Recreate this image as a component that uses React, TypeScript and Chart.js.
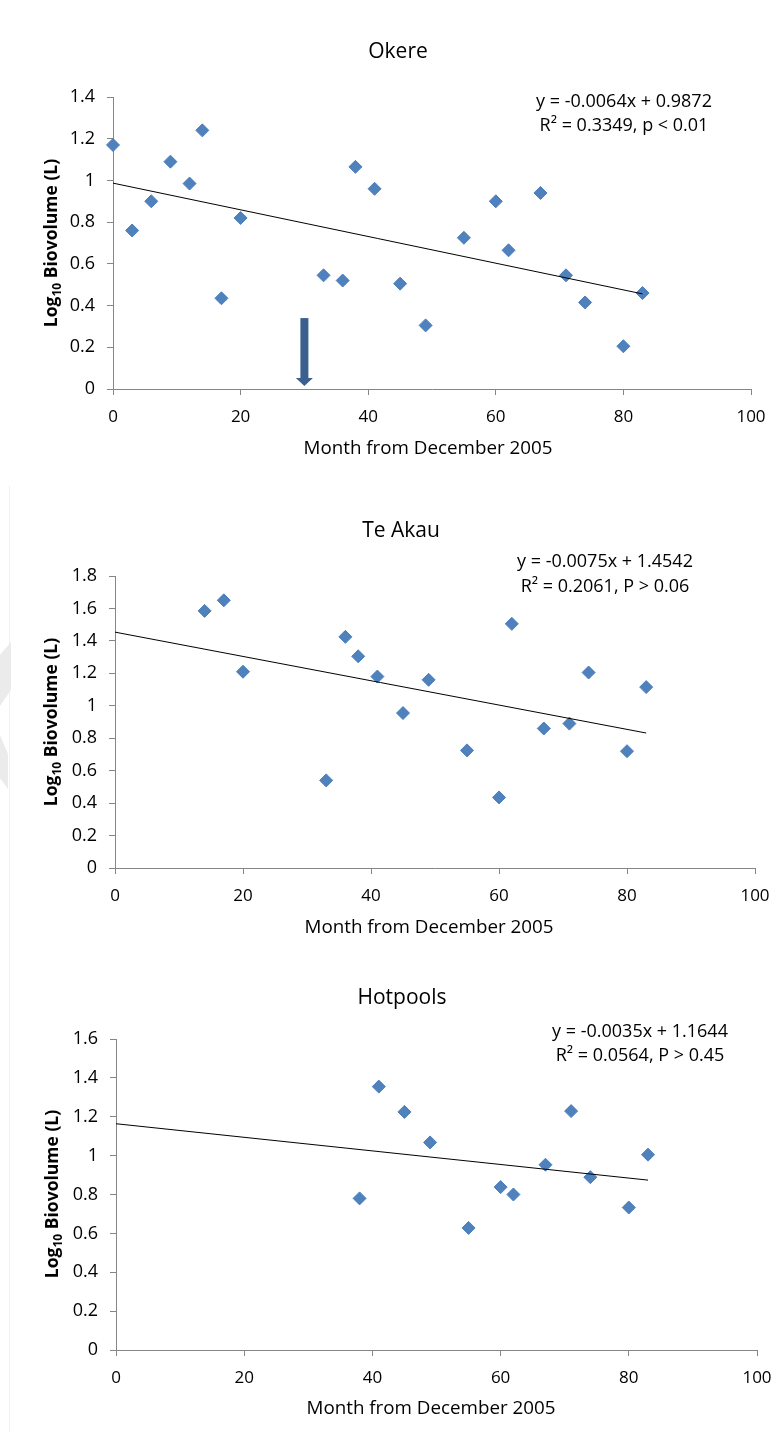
import React, { useEffect, useRef } from "react";
import { Chart, registerables } from "chart.js";

Chart.register(...registerables);

// ---------- data ----------
const xTickLabels = ["0", "20", "40", "60", "80", "100"];

const okereMonths = [0, 3, 6, 9, 12, 14, 17, 20, 33, 36, 38, 41, 45, 49, 55, 60, 62, 67, 71, 74, 80, 83];
const okereValues = [1.17, 0.76, 0.9, 1.09, 0.985, 1.24, 0.435, 0.82, 0.545, 0.52, 1.065, 0.96, 0.505, 0.305, 0.725, 0.9, 0.665, 0.94, 0.545, 0.415, 0.205, 0.46];
const okereTrend = [0.987, 0.456];
const okereYTicks = ["0", "0.2", "0.4", "0.6", "0.8", "1", "1.2", "1.4"];
const okereEquation = ["y = -0.0064x + 0.9872", "R\u00b2 = 0.3349, p < 0.01"];
const okereArrow = { month: 30, from: 0.34, to: 0 };

const teAkauMonths = [14, 17, 20, 33, 36, 38, 41, 45, 49, 55, 60, 62, 67, 71, 74, 80, 83];
const teAkauValues = [1.585, 1.65, 1.21, 0.54, 1.425, 1.305, 1.18, 0.955, 1.16, 0.725, 0.435, 1.505, 0.86, 0.89, 1.205, 0.72, 1.115];
const teAkauTrend = [1.454, 0.832];
const teAkauYTicks = ["0", "0.2", "0.4", "0.6", "0.8", "1", "1.2", "1.4", "1.6", "1.8"];
const teAkauEquation = ["y = -0.0075x + 1.4542", "R\u00b2 = 0.2061, P > 0.06"];

const hotpoolsMonths = [38, 41, 45, 49, 55, 60, 62, 67, 71, 74, 80, 83];
const hotpoolsValues = [0.78, 1.355, 1.225, 1.068, 0.628, 0.838, 0.8, 0.953, 1.229, 0.889, 0.733, 1.005];
const hotpoolsTrend = [1.164, 0.874];
const hotpoolsYTicks = ["0", "0.2", "0.4", "0.6", "0.8", "1", "1.2", "1.4", "1.6"];
const hotpoolsEquation = ["y = -0.0035x + 1.1644", "R\u00b2 = 0.0564, P > 0.45"];

const trendMonths = [0, 83];

// ---------- styles ----------
const FONT = '"Open Sans", "Liberation Sans", sans-serif';
const AXIS_COLOR = "#868686";
const MARKER_FILL = "#4F81BD";
const MARKER_EDGE = "#4A7EBB";
const ARROW_COLOR = "#3B5F8E";

type Panel = {
  title: string;
  months: number[];
  values: number[];
  trend: number[];
  yTicks: string[];
  yMax: number;
  equation: string[];
  arrow?: { month: number; from: number; to: number };
  top: number;
  height: number;
  area: { l: number; r: number; t: number; b: number };
  titlePos: [number, number];
  xTitlePos: [number, number];
  yTitlePos: [number, number];
  eqPos: [number, number, number];
};

const panels: Panel[] = [
  {
    title: "Okere",
    months: okereMonths,
    values: okereValues,
    trend: okereTrend,
    yTicks: okereYTicks,
    yMax: 1.4,
    equation: okereEquation,
    arrow: okereArrow,
    top: 0,
    height: 470,
    area: { l: 113, r: 751, t: 97, b: 389 },
    titlePos: [398, 52],
    xTitlePos: [428, 449],
    yTitlePos: [51, 243],
    eqPos: [624, 102, 126],
  },
  {
    title: "Te Akau",
    months: teAkauMonths,
    values: teAkauValues,
    trend: teAkauTrend,
    yTicks: teAkauYTicks,
    yMax: 1.8,
    equation: teAkauEquation,
    top: 470,
    height: 480,
    area: { l: 115, r: 755, t: 576, b: 868 },
    titlePos: [401, 531],
    xTitlePos: [429, 928],
    yTitlePos: [51, 722],
    eqPos: [605, 562, 587],
  },
  {
    title: "Hotpools",
    months: hotpoolsMonths,
    values: hotpoolsValues,
    trend: hotpoolsTrend,
    yTicks: hotpoolsYTicks,
    yMax: 1.6,
    equation: hotpoolsEquation,
    top: 950,
    height: 495,
    area: { l: 116, r: 757, t: 1039, b: 1350 },
    titlePos: [402, 998],
    xTitlePos: [431, 1409],
    yTitlePos: [52, 1194],
    eqPos: [640, 1032, 1056],
  },
];

const WIDTH = 771;
const Y_AXIS_W = 70;
const X_AXIS_H = 50;

function ScatterPanel({ p }: { p: Panel }) {
  const ref = useRef<HTMLCanvasElement | null>(null);

  useEffect(() => {
    if (!ref.current) return;
    const off = p.top;
    const padding = {
      left: p.area.l - Y_AXIS_W,
      right: WIDTH - p.area.r,
      top: p.area.t - off,
      bottom: p.height - (p.area.b - off) - X_AXIS_H,
    };

    const decor = {
      id: "decor",
      afterDatasetsDraw(chart: any) {
        const ctx = chart.ctx as CanvasRenderingContext2D;
        const xs = chart.scales.x;
        const ys = chart.scales.y;
        ctx.save();
        // arrow
        if (p.arrow) {
          const ax = xs.getPixelForValue(p.arrow.month);
          const y1 = ys.getPixelForValue(p.arrow.from);
          const y2 = ys.getPixelForValue(p.arrow.to) - 3;
          const headH = 8;
          ctx.fillStyle = ARROW_COLOR;
          ctx.fillRect(ax - 4, y1, 8, y2 - headH - y1 + 1);
          ctx.beginPath();
          ctx.moveTo(ax - 8.5, y2 - headH);
          ctx.lineTo(ax + 8.5, y2 - headH);
          ctx.lineTo(ax, y2);
          ctx.closePath();
          ctx.fill();
        }
        ctx.fillStyle = "#000";
        ctx.textAlign = "center";
        ctx.textBaseline = "middle";
        // title
        ctx.font = `21px ${FONT}`;
        ctx.fillText(p.title, p.titlePos[0], p.titlePos[1] - off);
        // x title
        ctx.font = `18.8px ${FONT}`;
        ctx.fillText("Month from December 2005", p.xTitlePos[0], p.xTitlePos[1] - off);
        // equation
        ctx.font = `18px ${FONT}`;
        ctx.fillText(p.equation[0], p.eqPos[0], p.eqPos[1] - off);
        ctx.fillText(p.equation[1], p.eqPos[0], p.eqPos[2] - off);
        // y title, rotated with subscript
        const big = `bold 17.5px ${FONT}`;
        const small = `bold 12px ${FONT}`;
        ctx.font = big;
        const w1 = ctx.measureText("Log").width;
        const w3 = ctx.measureText(" Biovolume (L)").width;
        ctx.font = small;
        const w2 = ctx.measureText("10").width;
        const total = w1 + w2 + w3;
        ctx.translate(p.yTitlePos[0], p.yTitlePos[1] - off);
        ctx.rotate(-Math.PI / 2);
        ctx.textAlign = "left";
        ctx.textBaseline = "alphabetic";
        let x = -total / 2;
        ctx.font = big;
        ctx.fillText("Log", x, 6);
        x += w1;
        ctx.font = small;
        ctx.fillText("10", x, 10);
        x += w2;
        ctx.font = big;
        ctx.fillText(" Biovolume (L)", x, 6);
        ctx.restore();
      },
    };

    const chart = new Chart(ref.current, {
      type: "scatter",
      data: {
        datasets: [
          {
            type: "line",
            data: trendMonths.map((m, i) => ({ x: m, y: p.trend[i] })),
            borderColor: "#000000",
            borderWidth: 1,
            pointRadius: 0,
            fill: false,
            clip: false,
            order: 0,
          } as any,
          {
            type: "scatter",
            data: p.months.map((m, i) => ({ x: m, y: p.values[i] })),
            pointStyle: "rectRot",
            pointRadius: 6.5,
            backgroundColor: MARKER_FILL,
            borderColor: MARKER_EDGE,
            borderWidth: 1,
            clip: false,
            order: 1,
          } as any,
        ],
      },
      options: {
        responsive: false,
        animation: false,
        devicePixelRatio: 1,
        layout: { padding },
        plugins: {
          legend: { display: false },
          title: { display: false },
          tooltip: { enabled: false },
        },
        scales: {
          x: {
            type: "linear",
            position: "bottom",
            min: 0,
            max: 100,
            ticks: {
              stepSize: 20,
              callback: (_v: any, i: number) => xTickLabels[i],
              font: { family: FONT, size: 17 },
              color: "#000",
              padding: 12,
              maxRotation: 0,
            },
            grid: { drawOnChartArea: false, drawTicks: true, tickLength: 6, color: AXIS_COLOR },
            border: { display: true, color: AXIS_COLOR, width: 1 },
            afterFit: (s: any) => {
              s.height = X_AXIS_H;
              s.paddingLeft = 0;
              s.paddingRight = 0;
            },
          },
          y: {
            type: "linear",
            min: 0,
            max: p.yMax,
            ticks: {
              stepSize: 0.2,
              callback: (_v: any, i: number) => p.yTicks[i],
              font: { family: FONT, size: 18 },
              color: "#000",
              padding: 12,
            },
            grid: { drawOnChartArea: false, drawTicks: true, tickLength: 6, color: AXIS_COLOR },
            border: { display: true, color: AXIS_COLOR, width: 1 },
            afterFit: (s: any) => {
              s.width = Y_AXIS_W;
              s.paddingTop = 0;
              s.paddingBottom = 0;
            },
          },
        },
      } as any,
      plugins: [decor],
    });
    return () => chart.destroy();
  }, [p]);

  return (
    <canvas
      ref={ref}
      width={WIDTH}
      height={p.height}
      style={{ position: "absolute", left: 0, top: p.top, width: WIDTH, height: p.height }}
    />
  );
}

export default function App() {
  return (
    <div style={{ position: "absolute", left: 0, top: 0, width: WIDTH, height: 1445, background: "#fff", overflow: "hidden" }}>
      {/* faint page edge and watermark fragments */}
      <div style={{ position: "absolute", left: 9, top: 486, width: 1, height: 946, background: "#f0f0f0" }} />
      <div style={{ position: "absolute", left: 0, top: 642, width: 11, height: 64, background: "#ebebeb", clipPath: "polygon(0 20%, 100% 0, 100% 75%, 0 100%)" }} />
      <div style={{ position: "absolute", left: 0, top: 735, width: 8, height: 54, background: "#ebebeb", clipPath: "polygon(0 0, 100% 35%, 100% 100%, 0 80%)" }} />
      {panels.map((p) => (
        <ScatterPanel key={p.title} p={p} />
      ))}
    </div>
  );
}
